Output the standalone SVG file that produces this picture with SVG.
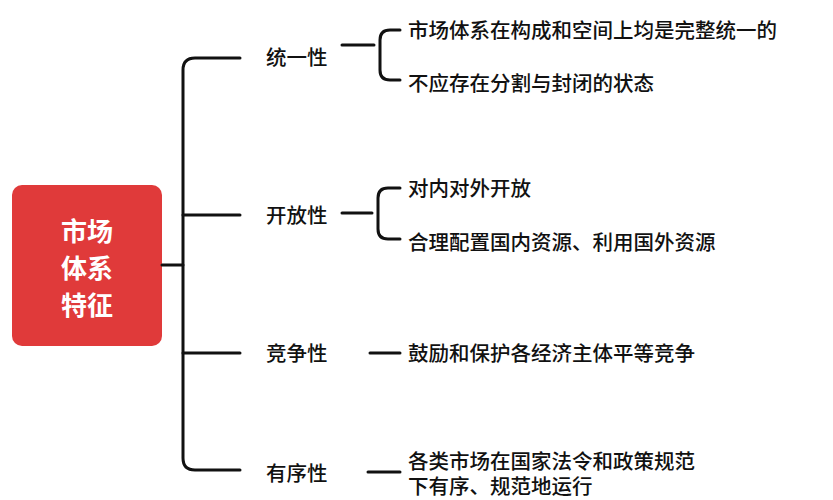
<svg xmlns="http://www.w3.org/2000/svg" width="833" height="500" viewBox="0 0 833 500">
<style>
.c{fill:none;stroke:#111;stroke-width:3;stroke-linecap:round;stroke-linejoin:round}
.t{font-family:"Noto Sans CJK SC","Noto Sans",sans-serif;font-size:20.5px;font-weight:500;fill:#111;dominant-baseline:central}
.r{font-family:"Noto Sans CJK SC",sans-serif;font-size:26px;font-weight:bold;fill:#fff;text-anchor:middle;dominant-baseline:central}
</style>
<rect width="833" height="500" fill="#fff"/>
<g id="root"><rect x="12" y="185" width="150" height="161" rx="10" fill="#e03a3a"/>
<text class="r" x="87" y="229">市场</text><text class="r" x="87" y="266">体系</text><text class="r" x="87" y="303">特征</text></g>
<g id="connectors">
<path class="c" d="M162 265H183"/>
<path class="c" d="M240 58H195Q183 58 183 70V458Q183 470 195 470H240"/>
<path class="c" d="M183 215H240M183 353H240"/>
<path class="c" d="M342 45H374"/>
<path class="c" d="M400 30H390Q380 30 380 40V70Q380 80 390 80H400"/>
<path class="c" d="M342 213H372"/>
<path class="c" d="M400 188H388Q378 188 378 198V229Q378 239 388 239H400"/>
<path class="c" d="M370 353H400"/>
<path class="c" d="M368 472H400"/>
</g>
<g id="n1"><text class="t" x="266" y="56">统一性</text></g>
<g id="n2"><text class="t" x="266" y="214">开放性</text></g>
<g id="n3"><text class="t" x="266" y="352">竞争性</text></g>
<g id="n4"><text class="t" x="266" y="472">有序性</text></g>
<g id="l1"><text class="t" x="408" y="29">市场体系在构成和空间上均是完整统一的</text></g>
<g id="l2"><text class="t" x="408" y="82">不应存在分割与封闭的状态</text></g>
<g id="l3"><text class="t" x="408" y="187">对内对外开放</text></g>
<g id="l4"><text class="t" x="408" y="241">合理配置国内资源、利用国外资源</text></g>
<g id="l5"><text class="t" x="408" y="352">鼓励和保护各经济主体平等竞争</text></g>
<g id="l6"><text class="t" x="408" y="460">各类市场在国家法令和政策规范</text><text class="t" x="408" y="485">下有序、规范地运行</text></g>
</svg>
